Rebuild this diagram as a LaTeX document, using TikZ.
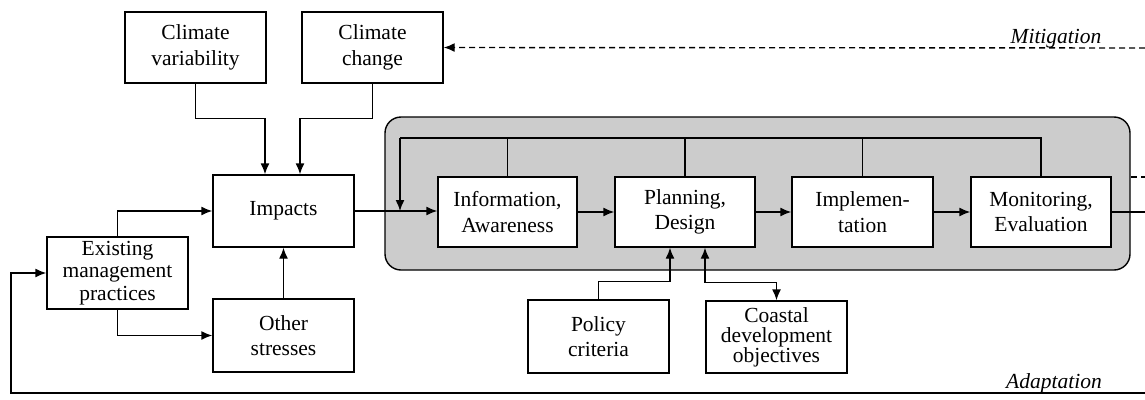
\documentclass[tikz,border=0pt]{standalone}
\usepackage{fontspec}
\setmainfont{Liberation Serif}
\usetikzlibrary{arrows.meta}
\begin{document}
\begin{tikzpicture}[x=1pt,y=-1pt,
  line width=1.4pt,
  box/.style={draw, fill=white, align=center, inner sep=2pt,
    font=\fontsize{21.5}{25.5}\selectfont},
  arr/.style={-{Latex[length=11pt,width=9pt]}},
  biarr/.style={{Latex[length=11pt,width=9pt]}-{Latex[length=11pt,width=9pt]}},
  dasharr/.style={arr, dash pattern=on 6pt off 4pt},
  lab/.style={font=\fontsize{21.5}{24}\selectfont\itshape, inner sep=0pt}]
\useasboundingbox (0,0) rectangle (1145,399);

% shaded process panel
\draw[fill=black!20, rounded corners=16pt] (385,117) rectangle (1130,270);

% driver boxes
\node[box, minimum width=141pt, minimum height=71pt] (cv) at (195.5,47.5) {Climate\\variability};
\node[box, minimum width=141pt, minimum height=71pt] (cc) at (372.5,47.5) {Climate\\change};
\node[box, minimum width=141pt, minimum height=72pt] (imp) at (283.5,211) {Impacts};
\node[box, minimum width=141pt, minimum height=72pt, font=\fontsize{21.5}{22.5}\selectfont] (emp) at (117.5,273) {Existing\\management\\practices};
\node[box, minimum width=141pt, minimum height=73pt] (os) at (283.5,335.5) {Other\\stresses};

% process steps
\node[box, minimum width=139pt, minimum height=70pt] (info) at (507.5,212) {Information,\\Awareness};
\node[box, minimum width=140pt, minimum height=70pt] (plan) at (685,212) {Planning,\\Design};
\node[box, minimum width=141pt, minimum height=70pt] (impl) at (862.5,212) {Implemen-\\tation};
\node[box, minimum width=140pt, minimum height=70pt] (mon) at (1041,212) {Monitoring,\\Evaluation};

% inputs to planning
\node[box, minimum width=141pt, minimum height=73pt] (pol) at (598.5,336.5) {Policy\\criteria};
\node[box, minimum width=141pt, minimum height=72pt, font=\fontsize{21.5}{20}\selectfont] (cdo) at (776.5,337) {Coastal\\development\\objectives};

% free line ends
\coordinate (miR) at (1145,48);
\coordinate (adR) at (1145,393);
\coordinate (adL) at (11,393);
\coordinate (monR) at (1145,212);
\coordinate (dsL) at (1131,177);
\coordinate (dsR) at (1145,177);
\coordinate (fbL) at (400,138);
\coordinate (fbJ) at (400,211);

% drivers into impacts
\draw[arr] (cv.south) -- ++(0,35) -| ([xshift=-18.5pt]imp.north);
\draw[arr] (cc.south) -- ++(0,35) -| ([xshift=16.5pt]imp.north);
\draw[arr] (emp.north) |- (imp.west);
\draw[arr] (emp.south) |- (os.west);
\draw[arr] (os.north) -- (imp.south);

% main chain
\draw[arr] (imp.east) -- (imp.east -| info.west);
\draw[arr] (info.east) -- (plan.west);
\draw[arr] (plan.east) -- (impl.west);
\draw[arr] (impl.east) -- (mon.west);
\draw (mon.east) -- (monR);

% feedback loop
\draw (mon.north) |- (fbL);
\draw (info.north) -- (info.north |- fbL);
\draw (plan.north) -- (plan.north |- fbL);
\draw (impl.north) -- (impl.north |- fbL);
\draw[arr] (fbL) -- (fbJ);

% planning inputs
\draw[arr] (pol.north) -- ++(0,-18) -| ([xshift=-15pt]plan.south);
\draw[biarr] ([xshift=20pt]plan.south) -- ++(0,35) -| (cdo.north);

% mitigation and adaptation paths
\draw[dasharr] (miR) -- (cc.east);
\draw[dash pattern=on 6pt off 4pt] (dsL) -- (dsR);
\draw[arr] (adR) -- (adL) |- (emp.west);
\node[lab, anchor=base] (mitlab) at (1056,43) {Mitigation};
\node[lab, anchor=base] (adlab) at (1054,388) {Adaptation};
\end{tikzpicture}
\end{document}
